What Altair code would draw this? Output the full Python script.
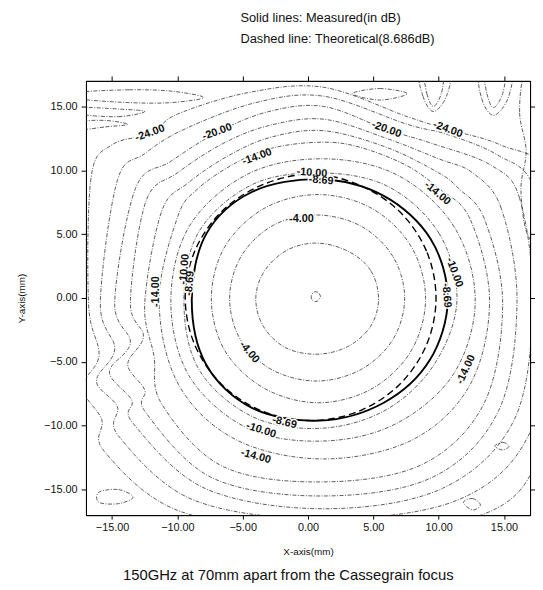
import altair as alt
import pandas as pd

# ---------------- contour rings (mm) ----------------
M1_X = [0.95, 0.75, 0.45, 0.25, 0.35, 0.7]
M1_Y = [0.1, 0.45, 0.45, 0.15, -0.2, -0.25]

M2_X = [5.4, 4.8, 3.1, 0.7, -1.6, -3.35, -4.0, -3.4, -1.7, 0.7, 3.05, 4.8]
M2_Y = [-0.05, 2.15, 3.65, 4.3, 3.75, 2.1, -0.05, -2.25, -3.9, -4.4, -3.8, -2.2]

M4_X = [7.4, 6.5, 4.05, 0.7, -2.65, -5.1, -6.0, -5.15, -2.7, 0.7, 4.05, 6.5]
M4_Y = [0.0, 3.25, 5.63, 6.5, 5.7, 3.3, 0.0, -3.3, -5.65, -6.5, -5.6, -3.25]

M6_X = [9.0, 7.9, 4.9, 0.8, -3.3, -6.35, -7.4, -6.35, -3.3, 0.8, 4.9, 7.9]
M6_Y = [-0.05, 4.03, 7.01, 8.1, 7.05, 4.05, -0.05, -4.15, -7.1, -8.2, -7.1, -4.13]

MEAS_X = [10.7, 9.4, 5.8, 0.9, -4.3, -7.8, -8.9, -7.8, -4.3, 0.9, 5.8, 9.3]
MEAS_Y = [-0.15, 4.6, 8.0, 9.3, 8.3, 5.0, -0.15, -5.2, -8.6, -9.6, -8.2, -4.9]

THEO_X = [9.8, 9.07, 6.99, 3.87, 0.2, -3.47, -6.59, -8.67, -9.4, -8.67, -6.59, -3.47, 0.2, 3.87, 6.99, 9.07]
THEO_Y = [0.0, 3.67, 6.79, 8.87, 9.7, 8.87, 6.79, 3.67, 0.0, -3.67, -6.79, -8.87, -9.6, -8.87, -6.79, -3.67]

M10_X = [11.4, 10.05, 6.15, 1.0, -4.25, -8.35, -9.5, -8.35, -4.25, 1.0, 5.95, 9.66]
M10_Y = [-0.2, 5.03, 8.72, 9.8, 8.89, 5.2, -0.2, -5.6, -9.29, -10.2, -8.77, -5.2]

M12_X = [12.8, 11.2, 6.85, 1.15, -4.6, -9.07, -10.5, -9.07, -4.6, 1.15, 6.7, 11.11]
M12_Y = [-0.25, 5.55, 9.62, 10.9, 9.71, 5.65, -0.25, -6.15, -10.21, -11.2, -9.86, -6.0]

M14_X = [13.9, 12.4, 10.0, 7.5, 4.0, 1.2, -2.5, -5.5, -8.5, -10.0, -11.4, -9.9, -5.5, 1.2, 8.0, 12.4]
M14_Y = [-0.2, 6.2, 8.6, 10.4, 11.8, 12.2, 11.8, 10.6, 8.5, 6.3, -0.2, -6.8, -11.1, -12.6, -11.1, -6.8]

M16_X = [14.9, 13.5, 11.5, 10.0, 6.0, 1.2, -2.8, -6.0, -9.2, -11.2, -12.5, -11.8, -11.2, -6.5, 1.2, 8.8, 13.5]
M16_Y = [-0.4, 6.2, 8.6, 9.8, 11.8, 13.1, 12.6, 11.2, 9.0, 6.8, -0.4, -4.5, -8.3, -13.2, -14.4, -13.0, -8.2]

M18_X = [16.0, 14.8, 12.6, 10.0, 6.0, 1.2, -3.0, -6.5, -10.0, -12.4, -13.6, -12.6, -13.8, -12.5, -12.4, -7.3, 1.2, 9.6, 14.6]
M18_Y = [-0.3, 7.0, 9.8, 10.9, 12.5, 14.0, 13.5, 12.1, 9.8, 7.6, -0.3, -3.0, -5.2, -7.2, -9.0, -14.1, -15.5, -14.0, -8.8]

M20_X = [17.2, 16.2, 14.0, 9.5, 6.0, 1.2, -3.0, -6.9, -10.5, -13.2, -14.8, -13.6, -15.2, -13.5, -13.4, -7.9, 1.2, 10.3, 15.8]
M20_Y = [-0.3, 7.8, 10.4, 12.1, 13.2, 15.0, 14.6, 13.0, 10.7, 8.6, -0.3, -3.5, -5.8, -8.0, -9.8, -14.9, -16.5, -14.9, -9.5]

M22_X = [18.5, 17.3, 14.5, 10.7, 7.6, 1.2, -4.0, -9.5, -12.5, -14.6, -15.9, -14.8, -16.2, -14.6, -14.5, -8.8, 1.2, 11.5, 17.0]
M22_Y = [-0.4, 8.6, 11.2, 12.8, 13.6, 15.8, 15.3, 13.2, 11.3, 9.2, -0.4, -4.0, -6.5, -8.5, -10.8, -15.8, -17.3, -15.8, -10.5]

M24_X = [19.5, 18.5, 14.7, 10.7, 7.6, 1.2, -4.5, -10.0, -12.0, -15.0, -16.6, -16.8, -16.0, -17.3, -15.8, -15.6, -9.8, 1.2, 13.5, 18.0]
M24_Y = [-0.5, 9.5, 12.0, 13.2, 14.2, 16.5, 16.1, 14.4, 12.9, 12.0, 9.5, -0.5, -4.5, -7.0, -9.5, -12.0, -16.7, -18.2, -16.9, -11.5]

# small side-lobe loops near the frame
N1_X = [-17.5, -13.7, -10.5, -8.0, -10.5, -13.7, -17.5]
N1_Y = [16.1, 16.3, 16.2, 15.7, 15.3, 15.3, 15.6]
N2_X = [3.4, 5.5, 7.6, 5.5]
N2_Y = [16.0, 16.4, 16.0, 15.5]
N3_X = [9.0, 9.1, 9.6, 10.2, 10.3]
N3_Y = [17.6, 16.0, 15.0, 16.0, 17.6]
N3B_X = [8.6, 8.8, 9.6, 10.6, 10.8]
N3B_Y = [17.8, 15.8, 14.6, 15.8, 17.8]
N4_X = [13.6, 13.7, 14.2, 14.9, 15.0]
N4_Y = [17.6, 16.0, 14.9, 16.0, 17.6]
N4B_X = [13.2, 13.3, 14.2, 15.3, 15.5]
N4B_Y = [17.8, 15.6, 14.3, 15.6, 17.8]
N5_X = [16.6, 16.2, 16.7, 16.3, 16.8, 18.0, 18.0]
N5_Y = [17.6, 14.5, 11.5, 8.5, 5.0, 5.0, 17.6]
N6_X = [-16.0, -14.5, -13.4, -14.5, -16.0]
N6_Y = [-15.2, -15.0, -15.6, -16.1, -16.0]
N7_X = [11.9, 12.6, 13.2, 12.6]
N7_Y = [-16.0, -15.7, -16.2, -16.6]
N8_X = [14.3, 14.9, 15.4, 14.9]
N8_Y = [-11.6, -11.3, -11.6, -11.9]
N9_X = [-17.5, -14.5, -12.5, -14.5, -17.5]
N9_Y = [14.4, 14.2, 14.6, 14.8, 14.9]
N10_X = [-17.5, -15.5, -13.8, -15.5, -17.5]
N10_Y = [13.2, 13.4, 13.6, 13.9, 13.8]

# contour labels
LABEL_TEXT = ["-24.00", "-20.00", "-14.00", "-10.00", "-8.69", "-20.00", "-24.00", "-14.00",
              "-4.00", "-10.00", "-8.69", "-14.00", "-4.00", "-10.00", "-8.69", "-14.00",
              "-8.69", "-10.00", "-14.00"]
LABEL_X = [-12.1, -6.95, -3.9, 0.3, 1.0, 6.0, 10.7, 9.9,
           -0.5, -9.45, -9.05, -11.6, -4.5, 11.2, 10.6, 12.1,
           -1.8, -3.6, -4.0]
LABEL_Y = [12.9, 13.0, 11.05, 9.8, 9.2, 13.2, 13.2, 8.2,
           6.2, 2.25, 1.15, 0.5, -4.25, 2.0, 0.2, -5.6,
           -9.75, -10.35, -12.4]
LABEL_ANGLE = [340, 340, 340, 4, 4, 20, 20, 40,
               0, 275, 275, 270, 50, 70, 85, 295,
               14, 18, 15]

TICKS = [-15, -10, -5, 0, 5, 10, 15]

# ---------------- tables ----------------
thin = [("-1", M1_X, M1_Y), ("-2", M2_X, M2_Y), ("-4", M4_X, M4_Y), ("-6", M6_X, M6_Y),
        ("-10", M10_X, M10_Y), ("-12", M12_X, M12_Y), ("-14", M14_X, M14_Y),
        ("-16", M16_X, M16_Y), ("-18", M18_X, M18_Y), ("-20", M20_X, M20_Y),
        ("-22", M22_X, M22_Y), ("-24", M24_X, M24_Y),
        ("n1", N1_X, N1_Y), ("n2", N2_X, N2_Y), ("n3", N3_X, N3_Y), ("n3b", N3B_X, N3B_Y),
        ("n4", N4_X, N4_Y), ("n4b", N4B_X, N4B_Y), ("n5", N5_X, N5_Y), ("n6", N6_X, N6_Y),
        ("n7", N7_X, N7_Y), ("n8", N8_X, N8_Y), ("n9", N9_X, N9_Y), ("n10", N10_X, N10_Y)]


def table(rings):
    rows = []
    for name, xs, ys in rings:
        for i, (x, y) in enumerate(zip(xs, ys)):
            rows.append({"ring": name, "i": i, "x": x, "y": y})
    return pd.DataFrame(rows)


thin_df = table(thin)
meas_df = table([("meas", MEAS_X, MEAS_Y)])
theo_df = table([("theo", THEO_X, THEO_Y)])
lab_df = pd.DataFrame({"t": LABEL_TEXT, "x": LABEL_X, "y": LABEL_Y, "a": LABEL_ANGLE})

FONT = "Liberation Sans"
xs = alt.Scale(domain=[-17, 17], nice=False, zero=False)
ys = alt.Scale(domain=[-17, 17], nice=False, zero=False)

x_bottom = alt.Axis(values=TICKS, format=".2f", grid=False, tickSize=4, labelPadding=3,
                    labelFont=FONT, labelFontSize=11, labelColor="#111", domainColor="black",
                    tickColor="black", title="X-axis(mm)", titleFont=FONT, titleFontSize=10,
                    titleFontWeight="normal", titleColor="#111", titlePadding=14)
y_left = alt.Axis(values=TICKS, format=".2f", grid=False, tickSize=5, labelPadding=4,
                  labelFont=FONT, labelFontSize=11, labelColor="#111", domainColor="black",
                  tickColor="black", title="Y-axis(mm)", titleFont=FONT, titleFontSize=10,
                  titleFontWeight="normal", titleColor="#111", titleAngle=270,
                  titleX=-65, titleY=220, titleAlign="center", titleBaseline="middle")
x_top = alt.Axis(orient="top", values=TICKS, labels=False, grid=False, tickSize=5,
                 domainColor="black", tickColor="black",
                 title=["Solid lines: Measured(in dB)", "Dashed line: Theoretical(8.686dB)"],
                 titleFont=FONT, titleFontSize=13, titleFontWeight="normal", titleColor="#111",
                 titleX=156, titleY=-70, titleAlign="left", titleBaseline="top", titleAngle=0,
                 titleLineHeight=21)
y_right = alt.Axis(orient="right", values=TICKS, labels=False, grid=False, tickSize=5,
                   domainColor="black", tickColor="black", title="")

thin_layer = alt.Chart(thin_df).mark_line(
    interpolate="cardinal-closed", clip=True, color="#333333", strokeWidth=0.8,
    strokeDash=[4, 1.5, 1, 1.5]
).encode(x=alt.X("x:Q", scale=xs, axis=x_bottom), y=alt.Y("y:Q", scale=ys, axis=y_left),
         detail="ring:N", order="i:Q")

meas_layer = alt.Chart(meas_df).mark_line(
    interpolate="cardinal-closed", clip=True, color="black", strokeWidth=1.9
).encode(x=alt.X("x:Q", scale=xs, axis=x_top), y=alt.Y("y:Q", scale=ys, axis=y_right),
         detail="ring:N", order="i:Q")

theo_layer = alt.Chart(theo_df).mark_line(
    interpolate="cardinal-closed", clip=True, color="black", strokeWidth=1.4, strokeDash=[7, 4]
).encode(x=alt.X("x:Q", scale=xs, axis=None), y=alt.Y("y:Q", scale=ys, axis=None),
         detail="ring:N", order="i:Q")

halo = alt.Chart(lab_df).mark_text(
    font=FONT, fontSize=11, fontWeight="bold", fill="white", stroke="white", strokeWidth=3
).encode(x=alt.X("x:Q", scale=xs, axis=None), y=alt.Y("y:Q", scale=ys, axis=None),
         text="t:N", angle=alt.Angle("a:Q", scale=None))

labels = alt.Chart(lab_df).mark_text(
    font=FONT, fontSize=11, fontWeight="bold", color="#111"
).encode(x=alt.X("x:Q", scale=xs, axis=None), y=alt.Y("y:Q", scale=ys, axis=None),
         text="t:N", angle=alt.Angle("a:Q", scale=None))

chart = alt.layer(thin_layer, theo_layer, meas_layer, halo, labels).resolve_axis(
    x="independent", y="independent"
).properties(
    width=450, height=440,
    autosize=alt.AutoSizeParams(type="none"),
    padding={"left": 79, "top": 70, "right": 5, "bottom": 72},
    title=alt.TitleParams("150GHz at 70mm apart from the Cassegrain focus", orient="bottom",
                          font=FONT, fontSize=15, fontWeight="normal", color="#111",
                          anchor="middle", dx=-20, offset=12),
).configure_view(stroke="black", strokeWidth=1)

chart.save("out.html", embed_options={"renderer": "svg", "actions": False})
